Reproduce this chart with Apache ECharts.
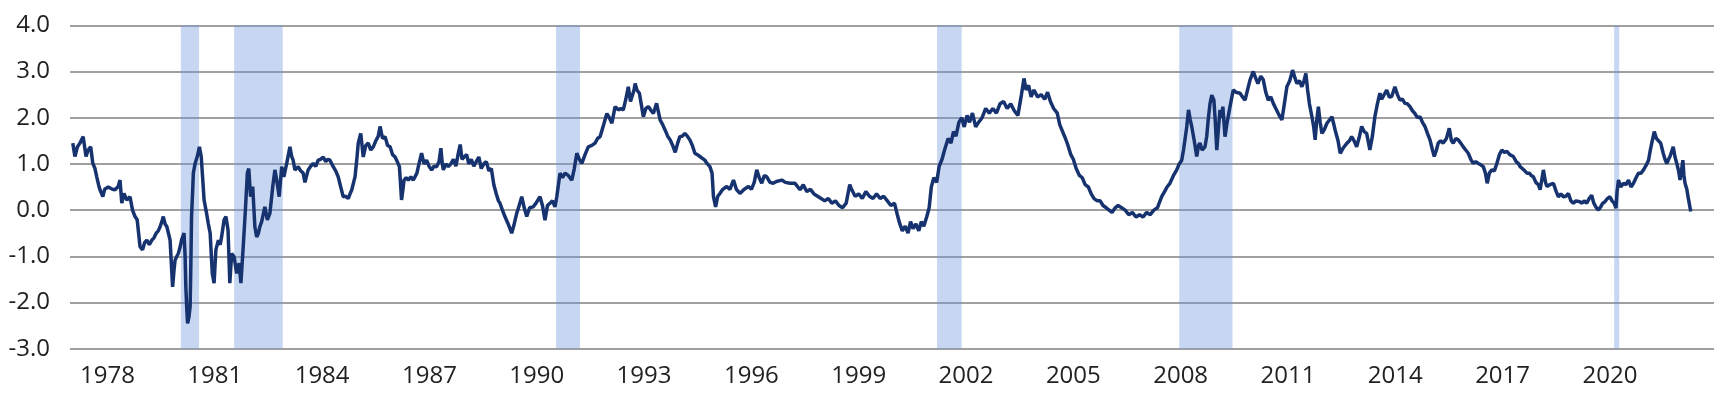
<!DOCTYPE html>
<html>
<head>
<meta charset="utf-8">
<script src="https://cdn.jsdelivr.net/npm/echarts@6/dist/echarts.min.js"></script>
<style>
  html, body { margin: 0; padding: 0; background: #fff; }
  #chart { width: 1727px; height: 398px; }
</style>
</head>
<body>
<div id="chart"></div>
<script>
// x values are decimal years, y values are the spread in percentage points
const tickYears = [1978, 1981, 1984, 1987, 1990, 1993, 1996, 1999, 2002, 2005, 2008, 2011, 2014, 2017, 2020];

const recessions = [
  [1980.05, 1980.56],
  [1981.54, 1982.90],
  [1990.54, 1991.21],
  [2001.19, 2001.88],
  [2007.96, 2009.45],
  [2020.12, 2020.26],
];

const spread1977to1983 = [
  [1977.03,1.45],[1977.09,1.16],[1977.16,1.37],[1977.23,1.45],[1977.32,1.59],[1977.40,1.16],[1977.46,1.30],
  [1977.53,1.37],[1977.59,1.01],[1977.65,0.9],[1977.70,0.72],[1977.75,0.55],[1977.79,0.44],[1977.87,0.29],
  [1977.92,0.45],[1977.96,0.44],[1978.02,0.5],[1978.07,0.54],[1978.14,0.45],[1978.21,0.44],[1978.30,0.51],
  [1978.35,0.65],[1978.40,0.15],[1978.46,0.36],[1978.54,0.22],[1978.63,0.29],[1978.70,0.0],[1978.77,-0.14],
  [1978.83,-0.21],[1978.87,-0.5],[1978.91,-0.79],[1978.98,-0.86],[1979.04,-0.7],[1979.10,-0.65],[1979.17,-0.75],
  [1979.24,-0.65],[1979.30,-0.6],[1979.36,-0.50],[1979.42,-0.45],[1979.47,-0.36],[1979.52,-0.25],[1979.56,-0.14],
  [1979.61,-0.3],[1979.66,-0.36],[1979.75,-0.65],[1979.82,-1.66],[1979.86,-1.3],[1979.89,-1.08],[1979.94,-1.0],
  [1979.98,-0.94],[1980.03,-0.8],[1980.07,-0.65],[1980.14,-0.50],[1980.17,-1.0],[1980.19,-1.66],[1980.22,-2.2],
  [1980.24,-2.45],[1980.28,-2.3],[1980.31,-2.09],[1980.33,-1.2],[1980.35,-0.14],[1980.38,0.4],[1980.40,0.80],
  [1980.45,1.01],[1980.51,1.16],[1980.57,1.37],[1980.62,1.16],[1980.66,0.7],[1980.70,0.22],[1980.77,-0.07],
  [1980.82,-0.3],[1980.87,-0.50],[1980.93,-1.37],[1980.98,-1.58],[1981.03,-0.86],[1981.10,-0.65],[1981.15,-0.75],
  [1981.19,-0.58],[1981.26,-0.21],[1981.31,-0.14],[1981.37,-0.43],[1981.42,-1.58],[1981.47,-0.94],[1981.54,-1.01],
  [1981.61,-1.37],[1981.68,-1.15],[1981.73,-1.58],[1981.80,-0.72],[1981.86,0.07],[1981.91,0.80],[1981.95,0.90],
  [1982.00,0.29],[1982.06,0.51],[1982.12,-0.36],[1982.17,-0.58],[1982.22,-0.5],[1982.26,-0.36],[1982.31,-0.25],
  [1982.36,-0.07],[1982.40,0.07],[1982.47,-0.21],[1982.54,-0.07],[1982.62,0.51],[1982.68,0.87],[1982.73,0.65],
  [1982.80,0.29],[1982.87,0.94],[1982.93,0.72],[1983.01,1.01],[1983.10,1.37],[1983.15,1.16],[1983.19,1.08],
  [1983.24,0.87],[1983.33,0.94],[1983.40,0.85],[1983.47,0.80],[1983.52,0.6],[1983.61,0.87],[1983.68,0.95],
  [1983.75,1.01],[1983.82,0.95],[1983.89,1.08],[1983.96,1.1],
];

const spread1984to1988 = [
  [1984.03,1.15],[1984.10,1.05],[1984.16,1.1],[1984.22,1.08],[1984.31,0.94],[1984.38,0.85],[1984.45,0.72],
  [1984.52,0.5],[1984.59,0.29],[1984.66,0.3],[1984.73,0.25],[1984.78,0.35],[1984.83,0.44],[1984.88,0.6],
  [1984.92,0.72],[1984.97,1.1],[1985.01,1.45],[1985.08,1.66],[1985.15,1.15],[1985.22,1.4],[1985.29,1.45],
  [1985.36,1.3],[1985.43,1.37],[1985.50,1.5],[1985.57,1.6],[1985.62,1.81],[1985.69,1.55],[1985.76,1.59],
  [1985.83,1.4],[1985.90,1.37],[1985.97,1.2],[1986.04,1.15],[1986.10,1.05],[1986.16,0.94],[1986.19,0.6],
  [1986.22,0.22],[1986.26,0.45],[1986.29,0.65],[1986.35,0.7],[1986.41,0.65],[1986.48,0.72],[1986.55,0.65],
  [1986.60,0.61],[1986.65,0.8],[1986.69,0.94],[1986.74,1.1],[1986.78,1.23],[1986.85,1.0],[1986.92,1.08],
  [1986.99,0.95],[1987.06,0.87],[1987.13,0.95],[1987.20,0.94],[1987.27,1.05],[1987.32,1.34],[1987.36,1.0],
  [1987.39,0.87],[1987.46,1.0],[1987.53,0.94],[1987.60,1.0],[1987.67,1.1],[1987.74,0.95],[1987.80,1.2],
  [1987.86,1.42],[1987.91,1.1],[1987.97,1.15],[1988.04,1.2],[1988.10,1.0],[1988.17,1.1],[1988.24,0.95],
  [1988.31,1.05],[1988.38,1.15],[1988.45,0.9],[1988.52,1.0],[1988.59,1.05],[1988.66,0.85],[1988.73,0.9],
  [1988.80,0.55],[1988.87,0.35],[1988.93,0.2],
];

const spread1989to1996 = [
  [1988.97,0.15],[1989.04,0.0],[1989.11,-0.14],[1989.20,-0.3],[1989.30,-0.50],[1989.37,-0.3],[1989.44,-0.07],
  [1989.51,0.1],[1989.58,0.29],[1989.65,0.05],[1989.72,-0.14],[1989.80,0.05],[1989.90,0.07],[1989.98,0.15],
  [1990.09,0.29],[1990.16,0.1],[1990.23,-0.22],[1990.30,0.1],[1990.37,0.15],[1990.44,0.2],[1990.51,0.07],
  [1990.56,0.29],[1990.65,0.80],[1990.72,0.7],[1990.79,0.80],[1990.88,0.75],[1990.98,0.65],[1991.05,0.9],
  [1991.12,1.23],[1991.19,1.1],[1991.26,1.01],[1991.35,1.2],[1991.44,1.37],[1991.54,1.4],[1991.63,1.45],
  [1991.70,1.55],[1991.77,1.59],[1991.87,1.85],[1991.96,2.09],[1992.03,2.0],[1992.10,1.88],[1992.19,2.24],
  [1992.28,2.17],[1992.35,2.2],[1992.42,2.17],[1992.49,2.4],[1992.56,2.67],[1992.62,2.35],[1992.66,2.31],
  [1992.72,2.6],[1992.75,2.74],[1992.80,2.6],[1992.87,2.53],[1992.92,2.3],[1992.98,2.02],[1993.05,2.2],
  [1993.12,2.24],[1993.20,2.15],[1993.26,2.09],[1993.35,2.31],[1993.45,1.95],[1993.52,1.85],[1993.59,1.73],
  [1993.66,1.6],[1993.73,1.52],[1993.80,1.4],[1993.87,1.25],[1993.94,1.45],[1994.00,1.59],[1994.07,1.6],
  [1994.14,1.66],[1994.21,1.6],[1994.28,1.52],[1994.35,1.4],[1994.42,1.23],[1994.49,1.2],[1994.56,1.16],
  [1994.63,1.12],[1994.70,1.08],[1994.77,1.0],[1994.84,0.94],[1994.90,0.8],[1994.94,0.29],[1995.00,0.07],
  [1995.06,0.3],[1995.12,0.36],[1995.20,0.45],[1995.31,0.51],[1995.40,0.45],[1995.50,0.65],[1995.58,0.45],
  [1995.68,0.36],[1995.80,0.45],[1995.92,0.51],[1996.00,0.45],[1996.08,0.6],[1996.15,0.87],[1996.22,0.7],
  [1996.29,0.58],[1996.36,0.75],[1996.43,0.72],[1996.52,0.6],[1996.61,0.58],[1996.70,0.62],[1996.85,0.65],
  [1996.95,0.6],
];

const spread1997to2006 = [
  [1997.08,0.58],[1997.22,0.58],[1997.36,0.44],[1997.45,0.55],[1997.55,0.4],[1997.65,0.45],[1997.75,0.35],
  [1997.85,0.3],[1997.95,0.25],[1998.05,0.2],[1998.15,0.25],[1998.25,0.15],[1998.35,0.2],[1998.45,0.1],
  [1998.55,0.05],[1998.65,0.15],[1998.75,0.55],[1998.80,0.45],[1998.90,0.3],[1999.00,0.35],[1999.10,0.25],
  [1999.20,0.4],[1999.30,0.3],[1999.40,0.25],[1999.50,0.35],[1999.60,0.25],[1999.70,0.3],[1999.80,0.2],
  [1999.90,0.1],[2000.00,0.15],[2000.08,-0.1],[2000.15,-0.3],[2000.22,-0.45],[2000.30,-0.35],[2000.38,-0.5],
  [2000.45,-0.25],[2000.52,-0.4],[2000.60,-0.3],[2000.68,-0.45],[2000.75,-0.25],[2000.82,-0.35],[2000.90,-0.15],
  [2000.97,0.05],[2001.03,0.5],[2001.10,0.7],[2001.18,0.6],[2001.25,0.95],[2001.33,1.1],[2001.40,1.3],
  [2001.50,1.55],[2001.58,1.45],[2001.65,1.7],[2001.72,1.6],[2001.80,1.9],[2001.88,2.0],[2001.95,1.8],
  [2002.03,2.05],[2002.10,1.9],[2002.18,2.1],[2002.27,1.8],[2002.35,1.9],[2002.45,2.0],[2002.55,2.2],
  [2002.65,2.1],[2002.75,2.2],[2002.85,2.1],[2002.95,2.3],[2003.05,2.35],[2003.15,2.2],[2003.25,2.3],
  [2003.35,2.15],[2003.45,2.05],[2003.55,2.5],[2003.62,2.85],[2003.68,2.6],[2003.75,2.7],[2003.82,2.45],
  [2003.90,2.6],[2004.00,2.45],[2004.10,2.5],[2004.20,2.4],[2004.28,2.55],[2004.36,2.35],[2004.45,2.2],
  [2004.55,2.1],[2004.62,1.85],[2004.70,1.7],[2004.78,1.55],[2004.85,1.4],[2004.93,1.2],[2005.00,1.1],
  [2005.08,0.9],[2005.17,0.75],[2005.25,0.7],[2005.33,0.55],[2005.42,0.5],[2005.50,0.35],[2005.58,0.25],
  [2005.67,0.2],[2005.75,0.2],[2005.83,0.1],[2005.92,0.05],[2006.00,0.0],[2006.08,-0.05],[2006.17,0.05],
  [2006.25,0.1],[2006.35,0.05],[2006.45,0.0],[2006.55,-0.1],[2006.65,-0.05],[2006.75,-0.15],[2006.85,-0.1],
  [2006.95,-0.15],
];

const spread2007to2015 = [
  [2007.05,-0.05],[2007.15,-0.1],[2007.25,0.0],[2007.35,0.05],[2007.47,0.29],[2007.55,0.4],[2007.62,0.5],
  [2007.70,0.58],[2007.80,0.75],[2007.89,0.87],[2007.96,1.0],[2008.03,1.08],[2008.08,1.3],[2008.12,1.52],
  [2008.17,1.8],[2008.22,2.17],[2008.27,1.95],[2008.31,1.81],[2008.38,1.5],[2008.45,1.16],[2008.50,1.4],
  [2008.54,1.45],[2008.60,1.3],[2008.68,1.37],[2008.73,1.6],[2008.77,1.95],[2008.82,2.3],[2008.87,2.49],
  [2008.93,2.38],[2008.97,1.9],[2009.01,1.30],[2009.05,1.7],[2009.10,2.17],[2009.15,2.0],[2009.18,2.24],
  [2009.24,1.59],[2009.30,1.9],[2009.38,2.24],[2009.47,2.60],[2009.55,2.55],[2009.66,2.53],[2009.73,2.45],
  [2009.80,2.38],[2009.87,2.6],[2009.94,2.82],[2010.03,3.0],[2010.10,2.85],[2010.16,2.74],[2010.24,2.9],
  [2010.31,2.82],[2010.38,2.55],[2010.45,2.38],[2010.52,2.45],[2010.59,2.31],[2010.66,2.2],[2010.73,2.09],
  [2010.83,1.95],[2010.90,2.3],[2010.97,2.67],[2011.05,2.8],[2011.13,3.03],[2011.20,2.85],[2011.25,2.74],
  [2011.32,2.8],[2011.39,2.67],[2011.45,2.8],[2011.50,2.96],[2011.55,2.6],[2011.60,2.3],[2011.67,2.02],
  [2011.72,1.8],[2011.76,1.52],[2011.80,1.9],[2011.85,2.24],[2011.90,1.9],[2011.95,1.66],[2012.02,1.75],
  [2012.09,1.88],[2012.16,1.95],[2012.23,2.02],[2012.32,1.73],[2012.40,1.5],[2012.46,1.23],[2012.55,1.35],
  [2012.65,1.45],[2012.72,1.5],[2012.78,1.59],[2012.85,1.5],[2012.92,1.37],[2013.00,1.6],[2013.06,1.81],
  [2013.13,1.7],[2013.20,1.66],[2013.29,1.30],[2013.36,1.6],[2013.43,2.02],[2013.50,2.3],[2013.57,2.53],
  [2013.62,2.4],[2013.67,2.38],[2013.76,2.60],[2013.83,2.45],[2013.90,2.46],[2013.99,2.67],[2014.06,2.5],
  [2014.13,2.38],[2014.20,2.4],[2014.27,2.31],[2014.34,2.3],[2014.41,2.24],[2014.48,2.15],[2014.55,2.09],
  [2014.62,2.0],[2014.69,2.02],[2014.76,1.9],[2014.83,1.81],[2014.90,1.66],[2014.97,1.52],[2015.04,1.3],
  [2015.09,1.16],[2015.15,1.3],[2015.20,1.45],[2015.27,1.5],[2015.34,1.45],[2015.43,1.55],[2015.51,1.77],
  [2015.57,1.5],[2015.62,1.45],[2015.69,1.55],[2015.76,1.52],[2015.83,1.45],[2015.90,1.37],[2015.97,1.3],
];

const spread2016to2022 = [
  [2016.04,1.23],[2016.11,1.1],[2016.18,1.01],[2016.25,1.05],[2016.32,1.01],[2016.39,0.98],[2016.46,0.94],
  [2016.52,0.8],[2016.57,0.58],[2016.63,0.8],[2016.70,0.87],[2016.77,0.85],[2016.84,1.01],[2016.91,1.2],
  [2016.98,1.30],[2017.05,1.25],[2017.12,1.27],[2017.20,1.2],[2017.30,1.16],[2017.38,1.05],[2017.45,1.0],
  [2017.49,0.94],[2017.55,0.9],[2017.62,0.85],[2017.68,0.8],[2017.75,0.8],[2017.80,0.75],[2017.86,0.72],
  [2017.93,0.6],[2018.00,0.55],[2018.05,0.44],[2018.14,0.87],[2018.20,0.6],[2018.24,0.51],[2018.32,0.55],
  [2018.42,0.58],[2018.50,0.4],[2018.56,0.29],[2018.63,0.35],[2018.70,0.29],[2018.77,0.3],[2018.84,0.36],
  [2018.91,0.2],[2018.98,0.15],[2019.05,0.2],[2019.10,0.18],[2019.16,0.18],[2019.22,0.15],[2019.28,0.2],
  [2019.35,0.15],[2019.42,0.25],[2019.49,0.32],[2019.55,0.15],[2019.62,0.05],[2019.68,0.0],[2019.75,0.08],
  [2019.80,0.15],[2019.86,0.18],[2019.93,0.25],[2020.00,0.29],[2020.06,0.2],[2020.12,0.15],[2020.17,0.04],
  [2020.20,0.4],[2020.24,0.65],[2020.30,0.5],[2020.38,0.58],[2020.45,0.55],[2020.52,0.65],[2020.59,0.5],
  [2020.66,0.58],[2020.73,0.7],[2020.80,0.80],[2020.87,0.8],[2020.94,0.87],[2021.00,0.95],[2021.08,1.08],
  [2021.13,1.3],[2021.17,1.45],[2021.24,1.70],[2021.30,1.55],[2021.35,1.52],[2021.42,1.45],[2021.49,1.23],
  [2021.54,1.1],[2021.59,1.01],[2021.64,1.1],[2021.68,1.16],[2021.73,1.2],[2021.77,1.37],[2021.82,1.15],
  [2021.87,1.01],[2021.92,0.85],[2021.96,0.65],[2022.00,0.85],[2022.04,1.08],[2022.07,0.75],[2022.10,0.58],
  [2022.15,0.45],[2022.20,0.22],[2022.23,0.25],[2022.26,-0.03],
];

const spreadData = [].concat(
  spread1977to1983, spread1984to1988, spread1989to1996,
  spread1997to2006, spread2007to2015, spread2016to2022
);

const colors = {
  line: "#17336f",
  grid: "#a0a0a0",
  text: "#222222",
  shade: "rgba(110, 150, 218, 0.38)",
  stripe: "rgba(90, 130, 210, 0.3)",
};

const labelFont = {
  fontFamily: "Open Sans",
  fontSize: 24,
  color: colors.text,
};

const chart = echarts.init(document.getElementById("chart"));

chart.setOption({
  animation: false,
  grid: { left: 70, right: 13, top: 25.3, bottom: 49.3, containLabel: false },
  xAxis: {
    type: "value",
    min: 1976.952,
    max: 2022.91,
    axisLine: { show: false },
    axisTick: { show: false },
    splitLine: { show: false },
    axisLabel: {
      ...labelFont,
      margin: 15,
      customValues: tickYears,
      formatter: (v) => String(Math.round(v)),
    },
  },
  yAxis: {
    type: "value",
    min: -3,
    max: 4,
    interval: 1,
    axisLine: { show: false },
    axisTick: { show: false },
    axisLabel: {
      ...labelFont,
      margin: 20,
      formatter: (v) => v.toFixed(1),
    },
    splitLine: { lineStyle: { color: colors.grid, width: 2 } },
  },
  series: [
    {
      type: "line",
      data: spreadData,
      showSymbol: false,
      lineStyle: { color: colors.line, width: 3.5 },
      z: 3,
      markArea: {
        silent: true,
        itemStyle: {
          color: colors.shade,
          decal: {
            symbol: "rect",
            symbolSize: 1,
            dashArrayX: [2, 5],
            dashArrayY: [1, 0],
            rotation: 0,
            color: colors.stripe,
          },
        },
        data: recessions.map(([a, b]) => [{ xAxis: a }, { xAxis: b }]),
      },
    },
  ],
});
</script>
</body>
</html>
